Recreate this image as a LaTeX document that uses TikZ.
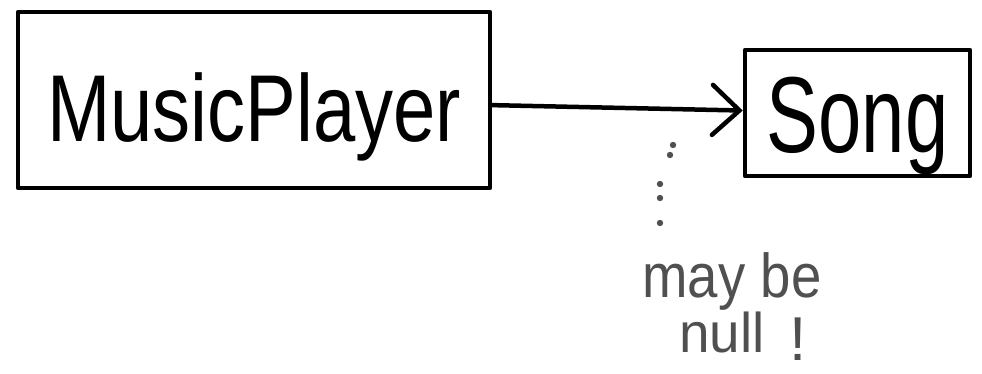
\documentclass[tikz,border=0pt]{standalone}
\usepackage{fontspec}
\usepackage{graphicx}
\setmainfont{Liberation Sans}
\usetikzlibrary{arrows.meta}
\definecolor{notegray}{HTML}{505050}
\tikzset{
  box/.style={draw=black, line width=4.5pt, line join=round, inner sep=0pt, rectangle},
  link/.style={draw=black, line width=4.5pt, line cap=round,
    -{Straight Barb[length=27pt,width=50pt,line cap=round]}},
  notetext/.style={text=notegray, inner sep=0pt, anchor=base},
  notedot/.style={fill=notegray},
}
\begin{document}
\begin{tikzpicture}[x=1pt,y=-1pt]
\useasboundingbox (0,0) rectangle (982,374);
% boxes
\node[box, minimum width=472pt, minimum height=176pt] (mp) at (254,100)
  {\raisebox{-42pt}[0pt][0pt]{\scalebox{0.8}[1]{\fontsize{95}{95}\selectfont MusicPlayer}}};
\node[box, minimum width=225pt, minimum height=126pt] (song) at (857.5,113)
  {\raisebox{-40pt}[0pt][0pt]{\scalebox{0.72}[1]{\fontsize{108}{108}\selectfont Song}}};
% connector
\draw[link] (mp) -- (song);
% dotted pointer
\foreach \p in {(673,145),(670,155),(660,184),(660,198),(660,223)}
  \fill[notedot] \p circle (3.2);
% note
\node[notetext] (note1) at (732,297)
  {\scalebox{0.88}[1]{\fontsize{62}{62}\selectfont may be}};
\node[notetext] (note2) at (722,352)
  {\scalebox{0.98}[1]{\fontsize{56}{56}\selectfont null}};
\node[notetext] (excl) at (798,360)
  {\fontsize{62}{62}\selectfont !};
\end{tikzpicture}
\end{document}
